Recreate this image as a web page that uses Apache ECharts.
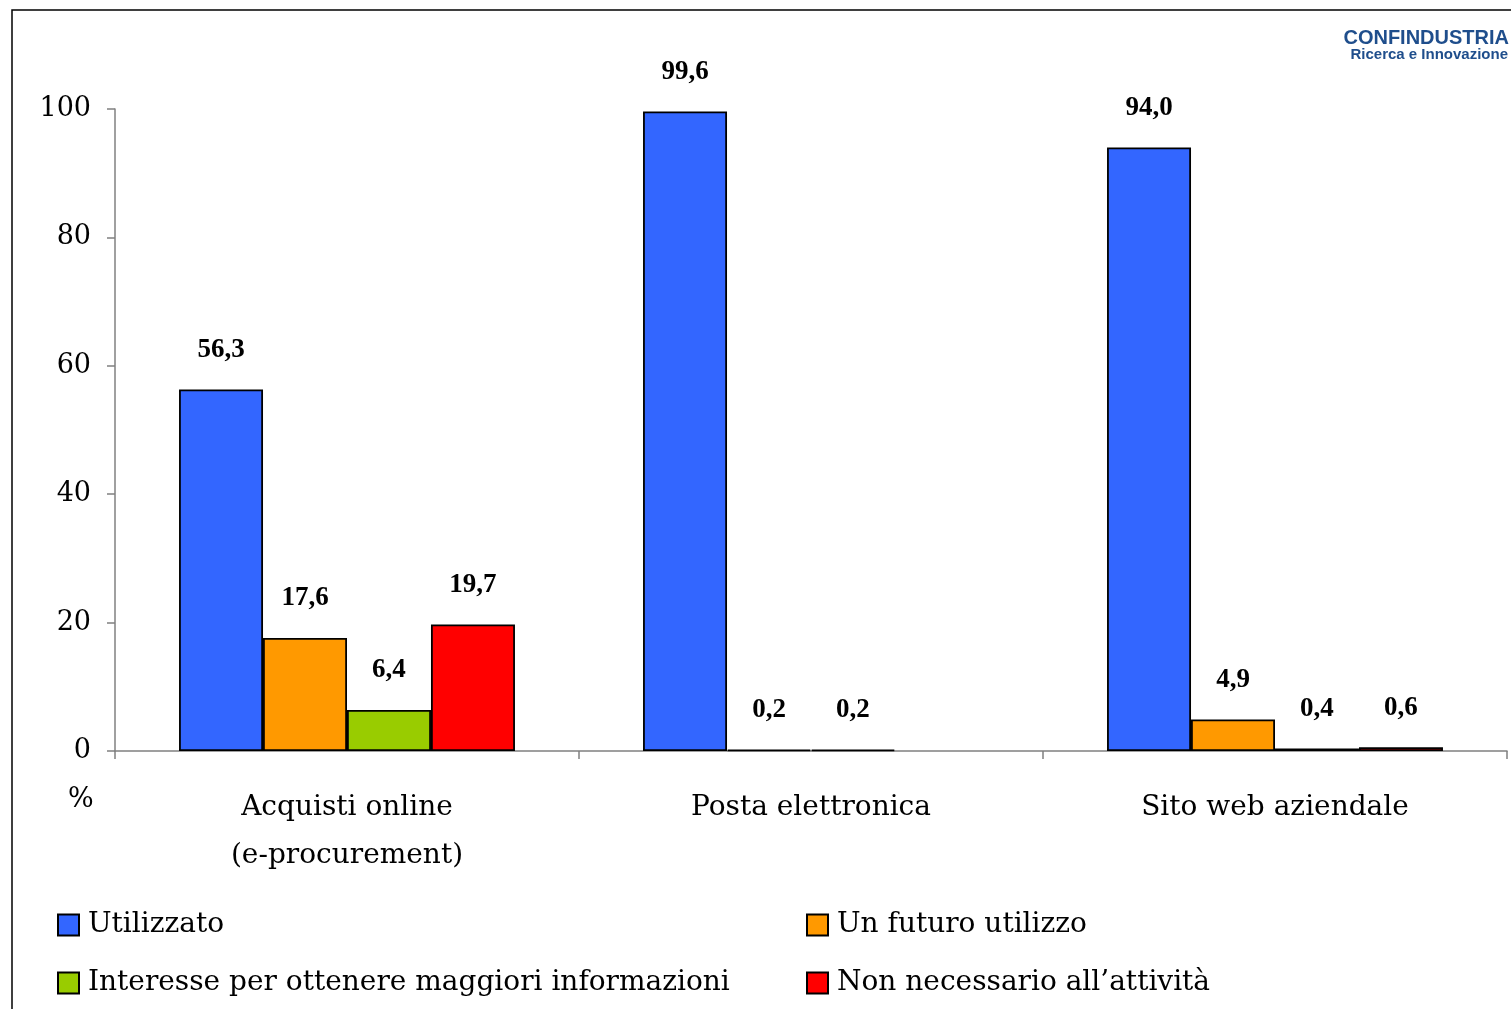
<!DOCTYPE html>
<html>
<head>
<meta charset="utf-8">
<script src="https://cdn.jsdelivr.net/npm/echarts@6/dist/echarts.min.js"></script>
<style>
html,body{margin:0;padding:0;background:#fff;}
#chart{width:1511px;height:1009px;}
</style>
</head>
<body>
<div id="chart"></div>
<script>
const categories = ['Acquisti online\n(e-procurement)', 'Posta elettronica', 'Sito web aziendale'];
const seriesNames = ['Utilizzato', 'Un futuro utilizzo', 'Interesse per ottenere maggiori informazioni', 'Non necessario all\u2019attivit\u00e0'];
const utilizzato = [56.3, 99.6, 94.0];
const futuroUtilizzo = [17.6, 0.2, 4.9];
const interesse = [6.4, 0.2, 0.4];
const nonNecessario = [19.7, null, 0.6];
const yTicks = [0, 20, 40, 60, 80, 100];

const colors = ['#3366FF', '#FF9900', '#99CC00', '#FF0000'];
const serif = '"DejaVu Serif", "Liberation Serif", serif';
const serifBold = '"Liberation Serif", serif';
const values = [utilizzato, futuroUtilizzo, interesse, nonNecessario];

const chart = echarts.init(document.getElementById('chart'));
const series = seriesNames.map((name, i) => ({
  name: name,
  type: 'bar',
  data: values[i],
  barGap: '0%',
  barCategoryGap: '27.6%',
  itemStyle: { color: colors[i], borderColor: '#000', borderWidth: 1.8 },
  label: {
    show: true,
    position: 'top',
    distance: 26,
    fontFamily: serifBold,
    fontWeight: 'bold',
    fontSize: 27,
    color: '#000',
    formatter: p => p.value == null ? '' : p.value.toFixed(1).replace('.', ',')
  }
}));

chart.setOption({
  animation: false,
  grid: { left: 115, right: 4, top: 109, bottom: 258, containLabel: false },
  xAxis: {
    type: 'category',
    data: categories,
    axisLine: { lineStyle: { color: '#808080', width: 1.5 } },
    axisTick: { show: true, length: 8, lineStyle: { color: '#808080', width: 1.5 } },
    axisLabel: { fontFamily: serif, fontSize: 28, color: '#000', margin: 33, lineHeight: 48 }
  },
  yAxis: {
    type: 'value',
    min: 0, max: 100, interval: 20,
    splitLine: { show: false },
    axisLine: { show: true, lineStyle: { color: '#808080', width: 1.5 } },
    axisTick: { show: true, inside: false, length: 8, lineStyle: { color: '#808080', width: 1.5 } },
    axisLabel: { fontFamily: serif, fontSize: 27, color: '#000', margin: 24,
      formatter: v => yTicks.includes(v) ? String(v) : '' }
  },
  legend: [
    {
      left: 57, top: 911, orient: 'vertical', itemGap: 30, padding: 0,
      itemWidth: 21, itemHeight: 21,
      data: [seriesNames[0], seriesNames[2]],
      textStyle: { fontFamily: serif, fontSize: 28, color: '#000', padding: [0, 0, 0, 4] },
      icon: 'rect'
    },
    {
      left: 806, top: 911, orient: 'vertical', itemGap: 30, padding: 0,
      itemWidth: 21, itemHeight: 21,
      data: [seriesNames[1], seriesNames[3]],
      textStyle: { fontFamily: serif, fontSize: 28, color: '#000', padding: [0, 0, 0, 4] },
      icon: 'rect'
    }
  ],
  graphic: [
    { type: 'rect', shape: { x: 12, y: 10, width: 1700, height: 1200 }, style: { fill: 'none', stroke: '#000', lineWidth: 1.5 }, silent: true },
    { type: 'text', left: 68, top: 786, style: { text: '%', font: '27px ' + serif, fill: '#000' } },
    { type: 'text', right: 2, top: 28, style: { text: 'CONFINDUSTRIA', font: 'bold 20px "Liberation Sans", Arial, sans-serif', fill: '#1F4E8C' } },
    { type: 'text', right: 3, top: 47, style: { text: 'Ricerca e Innovazione', font: 'bold 15px "Liberation Sans", Arial, sans-serif', fill: '#1F4E8C' } }
  ],
  series: series
});
</script>
</body>
</html>
